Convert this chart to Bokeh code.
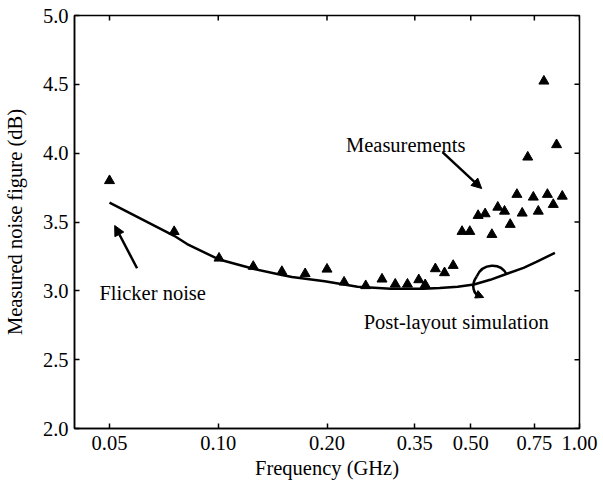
import math
from bokeh.plotting import figure
from bokeh.models import FixedTicker, NumeralTickFormatter, Arrow, NormalHead, Range1d
from bokeh.core.properties import value
from bokeh.embed import file_html
from bokeh.resources import INLINE

# ---------------- data ----------------
meas_freq = [0.05, 0.0755, 0.1005, 0.125, 0.150, 0.174, 0.200, 0.223, 0.256, 0.284,
             0.309, 0.334, 0.359, 0.374, 0.399, 0.423, 0.447, 0.473, 0.497, 0.524,
             0.548, 0.572, 0.594, 0.620, 0.643, 0.671, 0.694, 0.719, 0.745, 0.769,
             0.797, 0.815, 0.846, 0.864, 0.896]
meas_nf = [3.80, 3.43, 3.237, 3.177, 3.14, 3.124, 3.157, 3.063, 3.037, 3.085,
           3.048, 3.048, 3.08, 3.044, 3.16, 3.131, 3.184, 3.431, 3.431, 3.547,
           3.559, 3.409, 3.607, 3.578, 3.482, 3.70, 3.564, 3.971, 3.68, 3.578,
           4.523, 3.70, 3.627, 4.061, 3.687]

sim_freq = [0.05, 0.0755, 0.082, 0.10, 0.125, 0.15, 0.16, 0.197, 0.243, 0.30,
            0.37, 0.41, 0.46, 0.51, 0.566, 0.63, 0.70, 0.76, 0.855]
sim_nf = [3.64, 3.40, 3.34, 3.23, 3.16, 3.115, 3.10, 3.07, 3.03, 3.015,
          3.015, 3.02, 3.03, 3.046, 3.08, 3.124, 3.167, 3.21, 3.276]

x_ticks = [0.05, 0.10, 0.20, 0.35, 0.50, 0.75, 1.00]
y_ticks = [2.0, 2.5, 3.0, 3.5, 4.0, 4.5, 5.0]

x_title = "Frequency (GHz)"
y_title = "Measured noise figure (dB)"
notes = ["Measurements", "Flicker noise", "Post-layout simulation"]
note_x = [0.2257, 0.0469, 0.2526]
note_y = [4.061, 2.984, 2.777]

FONT = "Liberation Serif"
FS = "20.5px"
X0, X1 = 0.04, 1.0
Y0, Y1 = 2.0, 5.0

p = figure(width=603, height=486, x_axis_type="log",
           x_range=Range1d(X0, X1), y_range=Range1d(Y0, Y1),
           output_backend="svg", toolbar_location=None,
           min_border_left=73, min_border_right=24,
           min_border_top=15, min_border_bottom=58)
p.xgrid.visible = False
p.ygrid.visible = False
p.outline_line_color = "black"
p.outline_line_width = 1.5
p.background_fill_color = "white"
p.border_fill_color = "white"

for ax in (p.xaxis[0], p.yaxis[0]):
    ax.axis_line_color = "black"
    ax.axis_line_width = 1.5
    ax.major_tick_in = 5
    ax.major_tick_out = 0
    ax.major_tick_line_color = "black"
    ax.major_tick_line_width = 1.5
    ax.minor_tick_line_color = None
    ax.major_label_text_font = FONT
    ax.major_label_text_font_size = FS
    ax.major_label_text_color = "black"
    ax.axis_label_text_font = FONT
    ax.axis_label_text_font_size = FS
    ax.axis_label_text_font_style = "normal"
    ax.axis_label_text_color = "black"

xa = p.xaxis[0]
xa.ticker = FixedTicker(ticks=x_ticks)
xa.formatter = NumeralTickFormatter(format="0.00")
xa.major_label_standoff = 7
xa.axis_label = x_title
xa.axis_label_standoff = 4

ya = p.yaxis[0]
ya.ticker = FixedTicker(ticks=y_ticks)
ya.formatter = NumeralTickFormatter(format="0.0")
ya.major_label_standoff = 6
ya.axis_label = y_title
ya.axis_label_standoff = 14

# mirrored inward ticks on the top and right edges
TICK_PX = 5
tick_dy = TICK_PX * (Y1 - Y0) / 413.0
tick_fx = 10 ** (TICK_PX * math.log10(X1 / X0) / 506.0)
p.segment(x0=x_ticks, y0=[Y1] * len(x_ticks), x1=x_ticks,
          y1=[Y1 - tick_dy] * len(x_ticks), line_color="black", line_width=1.5)
p.segment(x0=[X1] * len(y_ticks), y0=y_ticks, x1=[X1 / tick_fx] * len(y_ticks),
          y1=y_ticks, line_color="black", line_width=1.5)

# simulation curve
p.line(sim_freq, sim_nf, line_color="black", line_width=2.5)
# measurements
p.scatter(meas_freq, meas_nf, marker="triangle", size=10,
          fill_color="black", line_color="black")

# annotation texts
p.text(x=note_x, y=note_y, text=notes, text_font=value(FONT),
       text_font_size=value(FS), text_color="black",
       text_align="left", text_baseline="alphabetic")

# arrows
def arrow(x0, y0, x1, y1, size=10):
    p.add_layout(Arrow(end=NormalHead(size=size, fill_color="black",
                                      line_color="black", line_width=1),
                       x_start=x0, y_start=y0, x_end=x1, y_end=y1,
                       line_color="black", line_width=2.5))

arrow(0.4175, 4.007, 0.5362, 3.743)
arrow(0.0596, 3.164, 0.05168, 3.4746)

# loop pointing to the simulation curve
p.bezier(x0=[0.6286, 0.5194], y0=[3.1186, 3.1041],
         x1=[0.5194, 0.5362], y1=[3.1041, 2.9588],
         cx0=[0.6051, 0.4999], cy0=[3.2058, 3.046],
         cx1=[0.5396, 0.5063], cy1=[3.2058, 2.9661],
         line_color="black", line_width=2.5)
arrow(0.5161, 2.977, 0.5430, 2.9516, size=8)

open("out.html", "w").write(file_html(p, INLINE))
